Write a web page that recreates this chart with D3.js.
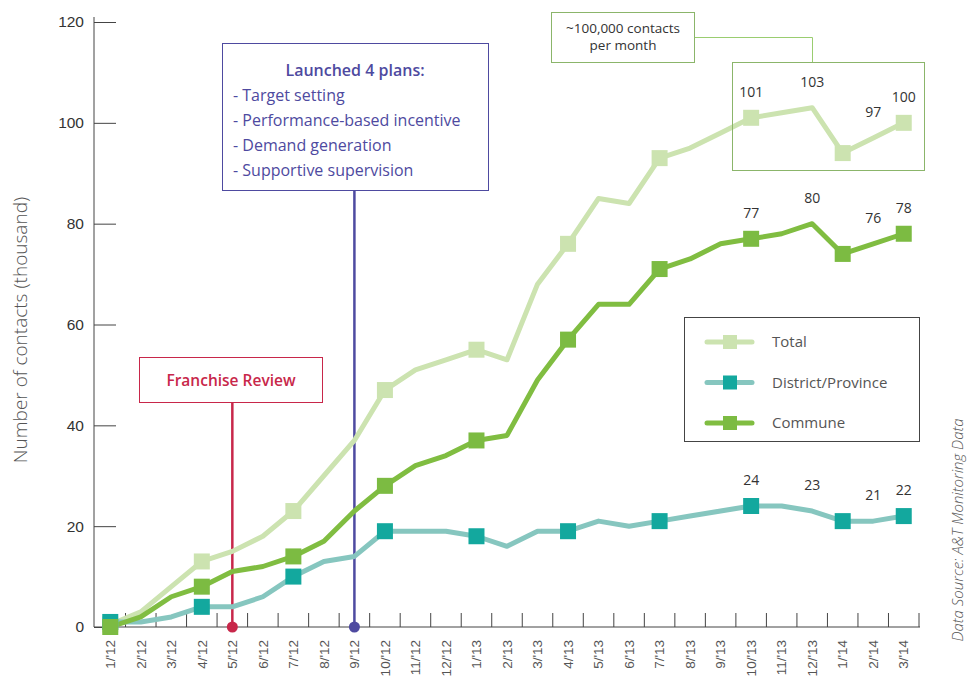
<!DOCTYPE html>
<html>
<head>
<meta charset="utf-8">
<script src="https://cdn.jsdelivr.net/npm/d3@7"></script>
<style>
  body { margin: 0; background: #fff; }
  svg { font-family: "Open Sans", Lato, sans-serif; }
</style>
</head>
<body>
<script>
const months = ["1/'12","2/'12","3/'12","4/'12","5/'12","6/'12","7/'12","8/'12","9/'12","10/'12","11/'12","12/'12",
                "1/'13","2/'13","3/'13","4/'13","5/'13","6/'13","7/'13","8/'13","9/'13","10/'13","11/'13","12/'13",
                "1/'14","2/'14","3/'14"];
const total    = [0.5,3,8,13,15,18,23,30,37,47,51,53,55,53,68,76,85,84,93,95,98,101,102,103,94,97,100];
const district = [1,1,2,4,4,6,10,13,14,19,19,19,18,16,19,19,21,20,21,22,23,24,24,23,21,21,22];
const commune  = [0,2,6,8,11,12,14,17,23,28,32,34,37,38,49,57,64,64,71,73,76,77,78,80,74,76,78];
const markerIdx = [0,3,6,9,12,15,18,21,24,26];
const labelIdx = [21,23,25,26];
const yTicks = [0,20,40,60,80,100,120];
const planLines = ["- Target setting","- Performance-based incentive","- Demand generation","- Supportive supervision"];

const series = [
  {name: "Total", values: total, line: "#cce3b0", mark: "#cce3b0"},
  {name: "District/Province", values: district, line: "#86c6bf", mark: "#13a89e"},
  {name: "Commune", values: commune, line: "#80bd41", mark: "#7cbb42"}
];

const W = 977, H = 677;
const svg = d3.select('body').append('svg').attr('width', W).attr('height', H);

const x = d3.scaleBand().domain(months).range([95, 919]);
const cx = m => x(m) + x.bandwidth()/2;
const y = d3.scaleLinear().domain([0,120]).range([627,22]);

// y axis
const yAxis = d3.axisLeft(y).tickValues(yTicks).tickSize(-22).tickPadding(10);
const gy = svg.append('g').attr('transform', 'translate(94,0)').call(yAxis);
gy.select('.domain').attr('stroke', '#444').attr('d', 'M0,17V627');
gy.selectAll('.tick line').attr('stroke', '#444');
gy.selectAll('.tick text').attr('font-size', 15.5).attr('fill', '#333');

// x axis
const xAxis = d3.axisBottom(x).tickSize(0).tickPadding(0);
const gx = svg.append('g').attr('transform', 'translate(0,627)').call(xAxis);
gx.select('.domain').attr('stroke', '#444').attr('d', 'M94,0H920');
gx.selectAll('.tick text')
  .attr('font-size', 13.5).attr('fill', '#555').attr('font-weight', 300)
  .attr('text-anchor', 'end')
  .attr('transform', 'translate(0,13) rotate(-90)')
  .attr('dy', '0.35em').attr('dx', 0).attr('y', 0).attr('x', 0);

// x tick marks at band boundaries
svg.append('g').selectAll('line')
  .data(months.slice(1).map(m => x(m)).concat([x(months[months.length-1]) + x.bandwidth()]))
  .enter().append('line')
  .attr('x1', d => d).attr('x2', d => d)
  .attr('y1', 613).attr('y2', 627)
  .attr('stroke', '#444');

// axis title
svg.append('text')
  .attr('transform', 'translate(27,330) rotate(-90)')
  .attr('text-anchor', 'middle')
  .attr('font-size', 19).attr('font-weight', 300).attr('fill', '#555')
  .text('Number of contacts (thousand)');

// data source
svg.append('text')
  .attr('transform', 'translate(963,530) rotate(-90)')
  .attr('text-anchor', 'middle')
  .attr('font-size', 15).attr('font-style', 'italic').attr('font-weight', 300).attr('fill', '#555')
  .text('Data Source: A&T Monitoring Data');

// Franchise review annotation
const frX = cx(months[4]);
svg.append('line').attr('x1', frX).attr('x2', frX).attr('y1', 402).attr('y2', 627)
  .attr('stroke', '#c8274a').attr('stroke-width', 2.5);
svg.append('circle').attr('cx', frX).attr('cy', 627).attr('r', 5.5).attr('fill', '#c8274a');
svg.append('rect').attr('x', 139.5).attr('y', 357.5).attr('width', 183).attr('height', 45)
  .attr('fill', '#fff').attr('stroke', '#c8274a');
svg.append('text').attr('x', 231).attr('y', 386).attr('text-anchor', 'middle')
  .attr('font-size', 15.5).attr('font-weight', 600).attr('fill', '#c8274a')
  .text('Franchise Review');

// Plans annotation
const plX = cx(months[8]);
svg.append('line').attr('x1', plX).attr('x2', plX).attr('y1', 191).attr('y2', 627)
  .attr('stroke', '#4e4aa0').attr('stroke-width', 2.5);
svg.append('circle').attr('cx', plX).attr('cy', 627).attr('r', 5.5).attr('fill', '#4e4aa0');
svg.append('rect').attr('x', 222.5).attr('y', 43.5).attr('width', 266).attr('height', 147)
  .attr('fill', '#fff').attr('stroke', '#4e4aa0');
svg.append('text').attr('x', 355).attr('y', 76).attr('text-anchor', 'middle')
  .attr('font-size', 16).attr('font-weight', 600).attr('fill', '#4e4aa0')
  .text('Launched 4 plans:');
svg.append('g').selectAll('text').data(planLines).enter().append('text')
  .attr('x', 233).attr('y', (d, i) => 101 + i*25)
  .attr('font-size', 16).attr('fill', '#4e4aa0')
  .text(d => d);

// lines
const line = d3.line().x((d, i) => cx(months[i])).y(d => y(d));
series.forEach(s => {
  svg.append('path').datum(s.values)
    .attr('d', line).attr('fill', 'none')
    .attr('stroke', s.line).attr('stroke-width', 5).attr('stroke-linejoin', 'round');
});
// markers (draw after all lines)
series.forEach(s => {
  svg.append('g').selectAll('rect').data(markerIdx).enter().append('rect')
    .attr('x', i => cx(months[i]) - 8).attr('y', i => y(s.values[i]) - 8)
    .attr('width', 16).attr('height', 16).attr('fill', s.mark);
});

// value labels
series.forEach(s => {
  svg.append('g').selectAll('text').data(labelIdx).enter().append('text')
    .attr('x', i => cx(months[i])).attr('y', i => y(s.values[i]) - 21)
    .attr('text-anchor', 'middle').attr('font-size', 14).attr('fill', '#333')
    .text(i => s.values[i]);
});

// ~100,000 callout
svg.append('rect').attr('x', 732.5).attr('y', 62.5).attr('width', 192).attr('height', 108)
  .attr('fill', 'none').attr('stroke', '#8bb56a');
svg.append('path').attr('d', 'M694,37.5H812.5V62').attr('fill', 'none').attr('stroke', '#9acd70');
svg.append('rect').attr('x', 551.5).attr('y', 12.5).attr('width', 143).attr('height', 50)
  .attr('fill', '#fff').attr('stroke', '#8bb56a');
svg.append('text').attr('x', 623).attr('y', 33).attr('text-anchor', 'middle')
  .attr('font-size', 13.5).attr('fill', '#333').text('~100,000 contacts');
svg.append('text').attr('x', 623).attr('y', 50).attr('text-anchor', 'middle')
  .attr('font-size', 13.5).attr('fill', '#333').text('per month');

// legend
const lg = svg.append('g');
lg.append('rect').attr('x', 684.5).attr('y', 317.5).attr('width', 235).attr('height', 124)
  .attr('fill', '#fff').attr('stroke', '#444');
series.forEach((s, i) => {
  const ly = 342 + i*40.5;
  lg.append('line').attr('x1', 707).attr('x2', 752).attr('y1', ly).attr('y2', ly)
    .attr('stroke', s.line).attr('stroke-width', 5).attr('stroke-linecap', 'round');
  lg.append('rect').attr('x', 723).attr('y', ly - 7).attr('width', 14).attr('height', 14).attr('fill', s.mark);
  lg.append('text').attr('x', 772).attr('y', ly + 5).attr('font-size', 15).attr('fill', '#555').text(s.name);
});
</script>
</body>
</html>
